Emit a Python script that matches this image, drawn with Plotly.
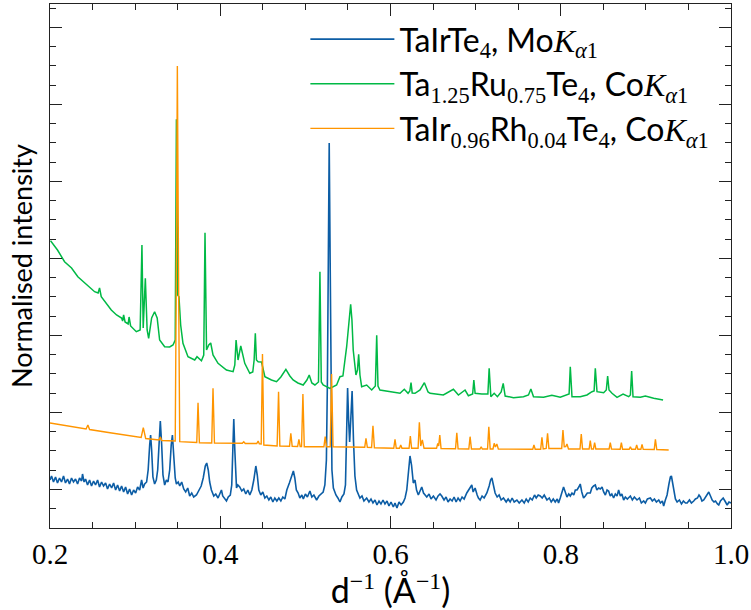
import plotly.graph_objects as go

# ---------------- data (d^-1 in 1/Angstrom, normalised intensity, offset) ----------------
blue_x = [
    0.2000, 0.2018, 0.2041, 0.2065, 0.2088, 0.2112, 0.2135, 0.2159, 0.2182, 0.2206,
    0.2229, 0.2253, 0.2276, 0.2300, 0.2324, 0.2347, 0.2371, 0.2382, 0.2400, 0.2418,
    0.2441, 0.2465, 0.2488, 0.2512, 0.2535, 0.2559, 0.2582, 0.2606, 0.2629, 0.2653,
    0.2676, 0.2700, 0.2724, 0.2747, 0.2771, 0.2794, 0.2818, 0.2841, 0.2865, 0.2888,
    0.2912, 0.2935, 0.2959, 0.2982, 0.3006, 0.3029, 0.3053, 0.3076, 0.3094, 0.3112,
    0.3135, 0.3153, 0.3171, 0.3182, 0.3194, 0.3209, 0.3229, 0.3249, 0.3265, 0.3282,
    0.3296, 0.3312, 0.3327, 0.3347, 0.3367, 0.3386, 0.3406, 0.3424, 0.3438, 0.3453,
    0.3471, 0.3485, 0.3506, 0.3524, 0.3547, 0.3571, 0.3594, 0.3618, 0.3641, 0.3665,
    0.3688, 0.3720, 0.3747, 0.3776, 0.3800, 0.3824, 0.3841, 0.3859, 0.3876, 0.3896,
    0.3924, 0.3947, 0.3974, 0.3994, 0.4014, 0.4029, 0.4053, 0.4073, 0.4094, 0.4118,
    0.4135, 0.4147, 0.4159, 0.4171, 0.4191, 0.4206, 0.4229, 0.4253, 0.4276, 0.4300,
    0.4324, 0.4347, 0.4371, 0.4394, 0.4418, 0.4435, 0.4453, 0.4476, 0.4500, 0.4524,
    0.4547, 0.4571, 0.4594, 0.4618, 0.4641, 0.4665, 0.4688, 0.4712, 0.4735, 0.4759,
    0.4782, 0.4812, 0.4835, 0.4859, 0.4876, 0.4894, 0.4915, 0.4935, 0.4959, 0.4976,
    0.5000, 0.5024, 0.5053, 0.5076, 0.5100, 0.5132, 0.5159, 0.5182, 0.5209, 0.5229,
    0.5247, 0.5259, 0.5268, 0.5280, 0.5291, 0.5300, 0.5312, 0.5329, 0.5359, 0.5382,
    0.5406, 0.5429, 0.5453, 0.5471, 0.5482, 0.5496, 0.5508, 0.5520, 0.5533, 0.5549,
    0.5565, 0.5582, 0.5602, 0.5621, 0.5641, 0.5665, 0.5688, 0.5720, 0.5747, 0.5771,
    0.5794, 0.5818, 0.5841, 0.5865, 0.5888, 0.5912, 0.5935, 0.5959, 0.5982, 0.6006,
    0.6033, 0.6053, 0.6076, 0.6100, 0.6124, 0.6151, 0.6171, 0.6191, 0.6209, 0.6229,
    0.6247, 0.6268, 0.6288, 0.6306, 0.6327, 0.6347, 0.6367, 0.6388, 0.6426, 0.6453,
    0.6476, 0.6504, 0.6535, 0.6559, 0.6582, 0.6602, 0.6629, 0.6653, 0.6676, 0.6700,
    0.6724, 0.6747, 0.6771, 0.6794, 0.6818, 0.6841, 0.6865, 0.6896, 0.6918, 0.6935,
    0.6955, 0.6971, 0.6994, 0.7018, 0.7033, 0.7053, 0.7076, 0.7100, 0.7132, 0.7159,
    0.7176, 0.7191, 0.7206, 0.7229, 0.7253, 0.7276, 0.7300, 0.7327, 0.7359, 0.7382,
    0.7406, 0.7429, 0.7453, 0.7485, 0.7512, 0.7544, 0.7571, 0.7594, 0.7618, 0.7641,
    0.7665, 0.7692, 0.7712, 0.7735, 0.7759, 0.7782, 0.7806, 0.7838, 0.7865, 0.7888,
    0.7912, 0.7935, 0.7959, 0.7974, 0.7994, 0.8012, 0.8033, 0.8053, 0.8073, 0.8094,
    0.8112, 0.8132, 0.8153, 0.8171, 0.8191, 0.8212, 0.8229, 0.8247, 0.8268, 0.8288,
    0.8312, 0.8347, 0.8365, 0.8386, 0.8406, 0.8424, 0.8445, 0.8465, 0.8485, 0.8504,
    0.8524, 0.8544, 0.8562, 0.8582, 0.8600, 0.8621, 0.8641, 0.8661, 0.8680, 0.8700,
    0.8718, 0.8739, 0.8759, 0.8782, 0.8818, 0.8841, 0.8865, 0.8896, 0.8924, 0.8947,
    0.8974, 0.8994, 0.9018, 0.9053, 0.9076, 0.9100, 0.9124, 0.9151, 0.9171, 0.9194,
    0.9209, 0.9229, 0.9249, 0.9271, 0.9288, 0.9300, 0.9312, 0.9327, 0.9347, 0.9367,
    0.9394, 0.9418, 0.9441, 0.9465, 0.9485, 0.9512, 0.9535, 0.9562, 0.9582, 0.9606,
    0.9624, 0.9641, 0.9659, 0.9680, 0.9700, 0.9718, 0.9739, 0.9759, 0.9779, 0.9800,
    0.9818, 0.9841, 0.9856, 0.9876, 0.9908, 0.9929, 0.9955, 0.9976, 1.0000,
]
blue_y = [
    0.48, 0.52, 0.46, 0.51, 0.45, 0.50, 0.46, 0.52, 0.45, 0.49,
    0.44, 0.50, 0.46, 0.49, 0.44, 0.50, 0.47, 0.54, 0.46, 0.49,
    0.43, 0.48, 0.42, 0.47, 0.43, 0.48, 0.41, 0.46, 0.42, 0.45,
    0.39, 0.44, 0.40, 0.45, 0.38, 0.43, 0.37, 0.42, 0.36, 0.41,
    0.34, 0.39, 0.33, 0.38, 0.35, 0.41, 0.38, 0.48, 0.40, 0.44,
    0.46, 0.58, 0.83, 0.93, 0.78, 0.51, 0.44, 0.48, 0.58, 0.88,
    1.07, 0.83, 0.53, 0.43, 0.48, 0.46, 0.58, 0.83, 0.93, 0.73,
    0.50, 0.44, 0.46, 0.42, 0.46, 0.39, 0.36, 0.40, 0.32, 0.35,
    0.31, 0.33, 0.38, 0.42, 0.50, 0.62, 0.65, 0.58, 0.46, 0.38,
    0.32, 0.34, 0.30, 0.34, 0.38, 0.32, 0.29, 0.27, 0.31, 0.33,
    0.43, 0.78, 1.09, 0.78, 0.40, 0.43, 0.41, 0.37, 0.39, 0.34,
    0.38, 0.33, 0.38, 0.48, 0.62, 0.53, 0.38, 0.33, 0.36, 0.30,
    0.32, 0.28, 0.31, 0.26, 0.30, 0.27, 0.30, 0.27, 0.31, 0.29,
    0.38, 0.45, 0.52, 0.57, 0.50, 0.38, 0.35, 0.30, 0.33, 0.29,
    0.34, 0.31, 0.37, 0.31, 0.33, 0.28, 0.32, 0.34, 0.36, 0.43,
    0.68, 1.48, 2.78, 3.85, 2.68, 1.28, 0.58, 0.40, 0.33, 0.30,
    0.26, 0.31, 0.34, 0.43, 0.78, 1.40, 1.08, 0.86, 1.08, 1.37,
    0.88, 0.52, 0.38, 0.34, 0.30, 0.32, 0.27, 0.30, 0.26, 0.29,
    0.25, 0.28, 0.23, 0.27, 0.24, 0.28, 0.24, 0.27, 0.22, 0.26,
    0.21, 0.25, 0.20, 0.26, 0.23, 0.26, 0.30, 0.38, 0.58, 0.72,
    0.63, 0.45, 0.48, 0.38, 0.33, 0.38, 0.41, 0.35, 0.31, 0.34,
    0.29, 0.32, 0.28, 0.32, 0.34, 0.32, 0.28, 0.31, 0.26, 0.29,
    0.27, 0.31, 0.26, 0.30, 0.27, 0.31, 0.29, 0.35, 0.38, 0.41,
    0.43, 0.36, 0.40, 0.33, 0.30, 0.28, 0.32, 0.30, 0.35, 0.42,
    0.48, 0.50, 0.43, 0.35, 0.31, 0.33, 0.28, 0.30, 0.26, 0.29,
    0.26, 0.30, 0.26, 0.28, 0.25, 0.28, 0.25, 0.29, 0.26, 0.30,
    0.28, 0.33, 0.30, 0.33, 0.32, 0.30, 0.33, 0.28, 0.30, 0.26,
    0.29, 0.26, 0.29, 0.25, 0.30, 0.36, 0.41, 0.36, 0.31, 0.34,
    0.32, 0.35, 0.33, 0.38, 0.38, 0.41, 0.44, 0.36, 0.30, 0.32,
    0.35, 0.35, 0.40, 0.42, 0.43, 0.38, 0.40, 0.39, 0.41, 0.36,
    0.33, 0.38, 0.37, 0.32, 0.34, 0.30, 0.34, 0.32, 0.38, 0.32,
    0.34, 0.28, 0.31, 0.29, 0.32, 0.28, 0.31, 0.28, 0.30, 0.25,
    0.27, 0.25, 0.29, 0.30, 0.27, 0.29, 0.26, 0.28, 0.25, 0.27,
    0.22, 0.28, 0.33, 0.44, 0.51, 0.52, 0.46, 0.35, 0.29, 0.26,
    0.28, 0.24, 0.27, 0.25, 0.25, 0.28, 0.25, 0.27, 0.29, 0.30,
    0.33, 0.31, 0.27, 0.28, 0.31, 0.34, 0.36, 0.32, 0.28, 0.26,
    0.27, 0.24, 0.23, 0.27, 0.30, 0.27, 0.23, 0.26, 0.25,
]

green_x = [
    0.2006, 0.2088, 0.2171, 0.2253, 0.2327, 0.2418, 0.2524, 0.2565, 0.2582, 0.2602,
    0.2653, 0.2720, 0.2782, 0.2841, 0.2853, 0.2865, 0.2882, 0.2918, 0.2929, 0.2947,
    0.3014, 0.3059, 0.3080, 0.3095, 0.3120, 0.3141, 0.3159, 0.3194, 0.3229, 0.3259,
    0.3288, 0.3347, 0.3406, 0.3445, 0.3471, 0.3485, 0.3500, 0.3515, 0.3535, 0.3562,
    0.3621, 0.3700, 0.3727, 0.3779, 0.3806, 0.3821, 0.3839, 0.3865, 0.3888, 0.3915,
    0.3974, 0.4073, 0.4151, 0.4171, 0.4186, 0.4200, 0.4209, 0.4241, 0.4265, 0.4288,
    0.4347, 0.4382, 0.4398, 0.4412, 0.4425, 0.4445, 0.4485, 0.4524, 0.4602, 0.4661,
    0.4712, 0.4771, 0.4818, 0.4856, 0.4912, 0.4974, 0.5018, 0.5045, 0.5076, 0.5112,
    0.5154, 0.5171, 0.5187, 0.5209, 0.5288, 0.5367, 0.5406, 0.5441, 0.5485, 0.5506,
    0.5532, 0.5547, 0.5562, 0.5594, 0.5612, 0.5626, 0.5641, 0.5661, 0.5720, 0.5779,
    0.5822, 0.5838, 0.5853, 0.5876, 0.5994, 0.6112, 0.6162, 0.6206, 0.6227, 0.6241,
    0.6255, 0.6288, 0.6347, 0.6398, 0.6441, 0.6465, 0.6621, 0.6739, 0.6798, 0.6876,
    0.6915, 0.6965, 0.6979, 0.6994, 0.7073, 0.7144, 0.7159, 0.7179, 0.7218, 0.7256,
    0.7300, 0.7324, 0.7347, 0.7445, 0.7562, 0.7621, 0.7649, 0.7680, 0.7798, 0.7896,
    0.7994, 0.8073, 0.8098, 0.8112, 0.8132, 0.8229, 0.8308, 0.8367, 0.8392, 0.8406,
    0.8426, 0.8504, 0.8535, 0.8551, 0.8567, 0.8602, 0.8661, 0.8732, 0.8798, 0.8818,
    0.8833, 0.8849, 0.8935, 0.8994, 0.9092, 0.9202,
]
green_y = [
    2.873, 2.78, 2.663, 2.60, 2.513, 2.44, 2.363, 2.35, 2.40, 2.313,
    2.25, 2.18, 2.13, 2.10, 2.07, 2.13, 2.06, 2.04, 2.11, 2.02,
    1.963, 1.98, 2.83, 2.00, 2.497, 1.98, 1.897, 2.10, 2.163, 2.10,
    1.88, 1.813, 1.81, 1.83, 1.88, 4.087, 2.33, 2.313, 2.03, 1.847,
    1.713, 1.68, 1.713, 1.673, 1.73, 2.953, 1.78, 1.83, 1.85, 1.73,
    1.647, 1.58, 1.563, 1.63, 1.88, 1.70, 1.68, 1.82, 1.73, 1.647,
    1.547, 1.56, 1.68, 1.947, 1.68, 1.663, 1.66, 1.513, 1.48, 1.463,
    1.51, 1.587, 1.52, 1.48, 1.45, 1.43, 1.48, 1.53, 1.45, 1.43,
    1.46, 2.563, 1.46, 1.43, 1.397, 1.43, 1.513, 1.52, 1.813, 2.03,
    2.237, 2.08, 1.78, 1.53, 1.58, 1.737, 1.53, 1.413, 1.43, 1.38,
    1.42, 1.927, 1.42, 1.38, 1.363, 1.347, 1.387, 1.347, 1.37, 1.453,
    1.35, 1.347, 1.38, 1.453, 1.36, 1.347, 1.33, 1.387, 1.33, 1.38,
    1.323, 1.34, 1.48, 1.347, 1.34, 1.34, 1.597, 1.313, 1.347, 1.313,
    1.36, 1.447, 1.32, 1.303, 1.313, 1.33, 1.39, 1.313, 1.307, 1.327,
    1.307, 1.33, 1.34, 1.613, 1.313, 1.313, 1.33, 1.363, 1.37, 1.597,
    1.363, 1.353, 1.38, 1.52, 1.38, 1.347, 1.307, 1.34, 1.313, 1.33,
    1.57, 1.313, 1.307, 1.32, 1.297, 1.28,
]

orange_x = [
    0.2000, 0.2229, 0.2424, 0.2445, 0.2465, 0.2724, 0.2935, 0.3071, 0.3096, 0.3124,
    0.3282, 0.3296, 0.3312, 0.3471, 0.3482, 0.3496, 0.3512, 0.3524, 0.3724, 0.3739,
    0.3755, 0.3900, 0.3915, 0.3932, 0.4259, 0.4276, 0.4294, 0.4429, 0.4445, 0.4459,
    0.4481, 0.4496, 0.4512, 0.4668, 0.4685, 0.4700, 0.4814, 0.4829, 0.4845, 0.4909,
    0.4924, 0.4939, 0.4955, 0.4971, 0.4987, 0.5218, 0.5233, 0.5248, 0.5292, 0.5308,
    0.5325, 0.5697, 0.5712, 0.5728, 0.5778, 0.5794, 0.5811, 0.6038, 0.6053, 0.6068,
    0.6106, 0.6120, 0.6135, 0.6218, 0.6233, 0.6248, 0.6324, 0.6339, 0.6355, 0.6374,
    0.6394, 0.6541, 0.6555, 0.6566, 0.6579, 0.6594, 0.6764, 0.6779, 0.6794, 0.6920,
    0.6935, 0.6951, 0.7051, 0.7065, 0.7079, 0.7140, 0.7155, 0.7171, 0.7204, 0.7218,
    0.7232, 0.7249, 0.7267, 0.7671, 0.7685, 0.7700, 0.7764, 0.7779, 0.7794, 0.7829,
    0.7845, 0.7861, 0.8011, 0.8026, 0.8041, 0.8059, 0.8073, 0.8091, 0.8226, 0.8241,
    0.8256, 0.8333, 0.8347, 0.8361, 0.8384, 0.8398, 0.8412, 0.8568, 0.8582, 0.8596,
    0.8698, 0.8712, 0.8726, 0.8804, 0.8818, 0.8832, 0.8878, 0.8892, 0.8906, 0.8941,
    0.8955, 0.8969, 0.9098, 0.9112, 0.9128, 0.9191, 0.9268,
]
orange_y = [
    1.05, 1.02, 0.99, 1.03, 0.985, 0.95, 0.925, 0.905, 1.003, 0.895,
    0.88, 0.91, 0.875, 0.87, 2.28, 4.62, 2.28, 0.863, 0.855, 1.253,
    0.853, 0.85, 1.397, 0.85, 0.847, 0.863, 0.845, 0.845, 0.87, 0.842,
    0.84, 1.74, 0.83, 0.82, 1.363, 0.82, 0.817, 0.947, 0.817, 0.815,
    0.887, 0.815, 0.815, 1.34, 0.813, 0.813, 0.913, 0.813, 0.813, 1.54,
    0.813, 0.807, 0.897, 0.807, 0.805, 1.023, 0.803, 0.797, 0.887, 0.797,
    0.797, 0.83, 0.797, 0.797, 0.92, 0.797, 0.797, 1.057, 0.82, 0.88,
    0.797, 0.797, 0.847, 0.82, 0.93, 0.795, 0.793, 0.953, 0.793, 0.79,
    0.913, 0.79, 0.79, 0.813, 0.79, 0.79, 1.013, 0.79, 0.79, 0.847,
    0.81, 0.84, 0.79, 0.787, 0.83, 0.787, 0.787, 0.907, 0.79, 0.795,
    0.947, 0.795, 0.795, 0.98, 0.813, 0.815, 0.84, 0.79, 0.79, 0.94,
    0.79, 0.79, 0.873, 0.79, 0.79, 0.853, 0.79, 0.79, 0.853, 0.79,
    0.788, 0.853, 0.788, 0.787, 0.813, 0.787, 0.787, 0.83, 0.787, 0.787,
    0.837, 0.787, 0.785, 0.887, 0.785, 0.78, 0.78,
]

x_tick_vals = [0.2, 0.4, 0.6, 0.8, 1.0]
x_tick_text = ["0.2", "0.4", "0.6", "0.8", "1.0"]

# ---------------- styling ----------------
SANS = "Lato"
SERIF = "Liberation Serif"
C_BLUE, C_GREEN, C_ORANGE = "#0C5DA5", "#00B945", "#FF9500"
AX = "#222222"


def m(t):
    return f"<span style=\"font-family:'{SERIF}'\">{t}</span>"


name_blue = "TaIrTe<sub>" + m("4") + "</sub>, Mo" + m("<i>K</i>") + "<sub>" + m("<i>α</i>1") + "</sub>"
name_green = ("Ta<sub>" + m("1.25") + "</sub>Ru<sub>" + m("0.75") + "</sub>Te<sub>" + m("4")
              + "</sub>, Co" + m("<i>K</i>") + "<sub>" + m("<i>α</i>1") + "</sub>")
name_orange = ("TaIr<sub>" + m("0.96") + "</sub>Rh<sub>" + m("0.04") + "</sub>Te<sub>" + m("4")
               + "</sub>, Co" + m("<i>K</i>") + "<sub>" + m("<i>α</i>1") + "</sub>")

fig = go.Figure()
for xs, ys, col, nm, grp, lw in [
    (blue_x, blue_y, C_BLUE, name_blue, "a", 1.6),
    (green_x, green_y, C_GREEN, name_green, "b", 1.5),
    (orange_x, orange_y, C_ORANGE, name_orange, "c", 1.4),
]:
    fig.add_trace(go.Scatter(x=xs, y=ys, mode="lines", name=nm, legendgroup=grp,
                             line=dict(color=col, width=lw)))

fig.update_layout(
    width=751, height=610,
    margin=dict(l=50, r=20, t=4, b=82),
    paper_bgcolor="white", plot_bgcolor="white",
    font=dict(family=SANS, color="black"),
    showlegend=True,
    legend=dict(x=0.375, y=0.985, xanchor="left", yanchor="top",
                font=dict(family=SANS, size=32, color="black"),
                bgcolor="rgba(0,0,0,0)", itemwidth=84, tracegroupgap=0,
                traceorder="normal"),
)

fig.update_xaxes(
    range=[0.2, 1.0], showgrid=False, zeroline=False,
    showline=True, linecolor=AX, linewidth=1, mirror="ticks",
    ticks="inside", ticklen=12, tickwidth=1, tickcolor=AX,
    tickvals=x_tick_vals, ticktext=x_tick_text,
    tickfont=dict(family=SERIF, size=29, color="black"),
    minor=dict(dtick=0.05, tick0=0.2, ticks="inside", ticklen=6, tickwidth=1, tickcolor=AX),
    title=dict(text="d<sup>" + m("−1") + "</sup> (Å<sup>" + m("−1") + "</sup>)",
               font=dict(family=SANS, size=34, color="black"), standoff=4),
    automargin=False,
)
fig.update_yaxes(
    range=[0, 5.24], showgrid=False, zeroline=False,
    showline=True, linecolor=AX, linewidth=1, mirror="ticks",
    ticks="inside", ticklen=12, tickwidth=1, tickcolor=AX,
    tick0=0.387, dtick=0.77, showticklabels=False,
    minor=dict(tick0=0.387, dtick=0.1925, ticks="inside", ticklen=6, tickwidth=1, tickcolor=AX),
    title=dict(text="Normalised intensity", font=dict(family=SANS, size=27, color="black"), standoff=8),
    automargin=False,
)

fig.write_html("out.html", config={"displayModeBar": False},
               post_script="document.body.style.margin='0px';")
